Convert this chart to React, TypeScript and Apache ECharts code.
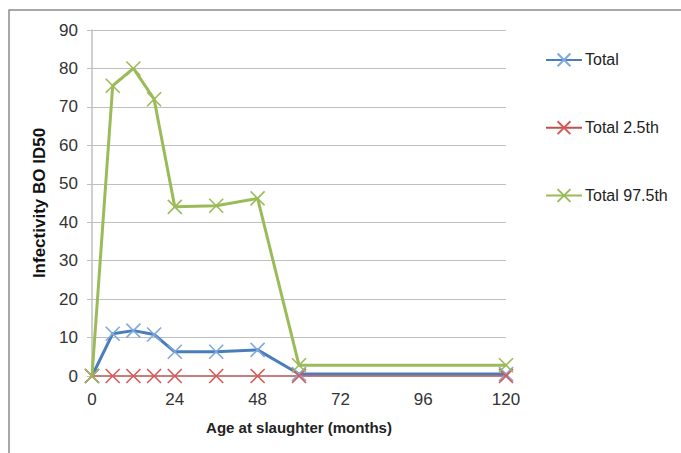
import React, { useEffect, useRef } from "react";
import * as echarts from "echarts";

const ages = [0, 6, 12, 18, 24, 36, 48, 60, 120];
const total = [0, 11, 11.8, 10.8, 6.3, 6.3, 6.8, 0.5, 0.5];
const total25 = [0, 0, 0, 0, 0, 0, 0, 0, 0];
const total975 = [0, 75.5, 80, 72, 44, 44.3, 46.2, 2.8, 2.8];
const seriesNames = ["Total", "Total 2.5th", "Total 97.5th"];
const xTicks = [0, 24, 48, 72, 96, 120];

const cross = "path://M0,0L10,10M10,0L0,10";
const font = "Liberation Sans";

function pairs(v: number[]) {
  return ages.map((a, i) => [a, v[i]]);
}

export default function App() {
  const ref = useRef<HTMLDivElement>(null);
  useEffect(() => {
    const chart = echarts.init(ref.current!, null, { renderer: "svg" });
    const mk = (name: string, data: number[], color: string, markColor: string, w: number) => ({
      name,
      type: "line",
      data: pairs(data),
      symbol: cross,
      symbolSize: 14,
      showAllSymbol: true,
      lineStyle: { color, width: w },
      itemStyle: { color: "none", borderColor: markColor, borderWidth: 1.6 },
      emphasis: { disabled: true },
    });
    chart.setOption({
      animation: false,
      textStyle: { fontFamily: font },
      graphic: [
        {
          type: "rect",
          shape: { x: 9, y: 10, width: 700, height: 470 },
          style: { fill: "none", stroke: "#8c8c8c", lineWidth: 1.5 },
          silent: true,
        },
      ],
      grid: { left: 92, right: 175, top: 30, bottom: 77 },
      legend: {
        orient: "vertical",
        left: 540,
        top: 46,
        itemGap: 50,
        itemWidth: 36,
        itemHeight: 16,
        padding: 5,
        textStyle: { fontFamily: font, fontSize: 16, color: "#222", padding: [0, 0, 0, -2] },
        data: seriesNames,
      },
      xAxis: {
        type: "value",
        min: 0,
        max: 120,
        interval: 24,
        name: "Age at slaughter (months)",
        nameLocation: "middle",
        nameGap: 44,
        nameTextStyle: { fontFamily: font, fontSize: 15, color: "#222", fontWeight: 600 },
        axisLine: { show: true, lineStyle: { color: "#bfbfbf" } },
        axisTick: { show: false },
        axisLabel: {
          fontFamily: font,
          fontSize: 17,
          color: "#333",
          margin: 15,
          formatter: (v: number) => (xTicks.includes(v) ? String(v) : ""),
        },
        splitLine: { show: false },
      },
      yAxis: {
        type: "value",
        min: 0,
        max: 90,
        interval: 10,
        name: "Infectivity BO ID50",
        nameLocation: "middle",
        nameGap: 36,
        nameTextStyle: { fontFamily: font, fontSize: 17, color: "#111", fontWeight: "bold" },
        axisLine: { show: true, lineStyle: { color: "#bfbfbf", width: 1.5 } },
        axisTick: { show: true, length: 5, lineStyle: { color: "#bfbfbf" } },
        axisLabel: { fontFamily: font, fontSize: 17, color: "#333", margin: 14 },
        splitLine: { show: true, lineStyle: { color: "#bfbfbf", width: 1.2 } },
      },
      series: [
        mk(seriesNames[0], total, "#4a7ebb", "#7fa8dc", 3),
        mk(seriesNames[1], total25, "#c0504d", "#d45a57", 1.5),
        mk(seriesNames[2], total975, "#9bbb59", "#9bbb59", 3),
      ],
    });
    return () => chart.dispose();
  }, []);
  return (
    <div
      ref={ref}
      style={{ position: "fixed", left: 0, top: 0, width: 681, height: 453, background: "#fff" }}
    />
  );
}
